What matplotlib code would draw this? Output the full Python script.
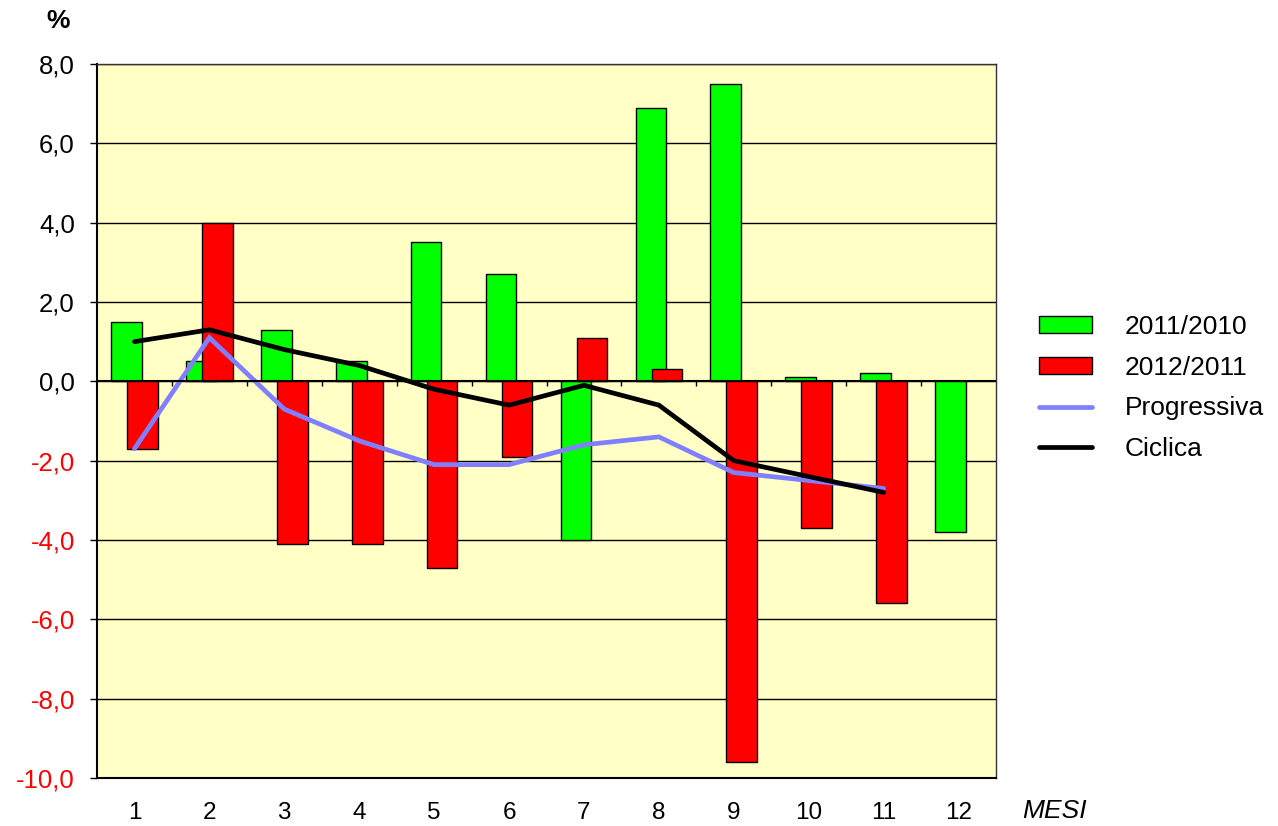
import matplotlib
matplotlib.use("Agg")
import matplotlib.pyplot as plt
import numpy as np

plt.rcParams['font.family'] = ['Liberation Sans', 'DejaVu Sans']

months = ['1', '2', '3', '4', '5', '6', '7', '8', '9', '10', '11', '12']
var_2011_2010 = [1.5, 0.5, 1.3, 0.5, 3.5, 2.7, -4.0, 6.9, 7.5, 0.1, 0.2, -3.8]
var_2012_2011 = [-1.7, 4.0, -4.1, -4.1, -4.7, -1.9, 1.1, 0.3, -9.6, -3.7, -5.6, np.nan]
progressiva = [-1.7, 1.1, -0.7, -1.5, -2.1, -2.1, -1.6, -1.4, -2.3, -2.5, -2.7, np.nan]
ciclica = [1.0, 1.3, 0.8, 0.4, -0.2, -0.6, -0.1, -0.6, -2.0, -2.4, -2.8, np.nan]
y_ticks = [8, 6, 4, 2, 0, -2, -4, -6, -8, -10]

fig = plt.figure(figsize=(12.78, 8.26), dpi=100)
ax = fig.add_axes([97/1278, 1 - 778/826, (996 - 97)/1278, (778 - 64)/826])
ax.set_facecolor('#FFFFC6')

x = np.arange(len(months))
bw = 0.41
off = 0.107

b1 = ax.bar(x - off, var_2011_2010, width=bw, color='#00FF00', edgecolor='black',
            linewidth=1.0, label='2011/2010', zorder=3)
b2 = ax.bar(x + off, var_2012_2011, width=bw, color='#FF0000', edgecolor='black',
            linewidth=1.0, label='2012/2011', zorder=4)
l1, = ax.plot(x, progressiva, color='#8080FF', linewidth=3.4, label='Progressiva',
              zorder=5, solid_capstyle='round', solid_joinstyle='miter')
l2, = ax.plot(x, ciclica, color='black', linewidth=3.4, label='Ciclica',
              zorder=6, solid_capstyle='round', solid_joinstyle='miter')

ax.set_xlim(-0.5, len(months) - 0.5)
ax.set_ylim(-10, 8)

# horizontal grid
ax.set_yticks(y_ticks)
ax.grid(axis='y', color='black', linewidth=1.0, zorder=1)
ax.set_yticklabels([f"{v:.1f}".replace('.', ',') for v in y_ticks], fontsize=18.5)
for lbl, v in zip(ax.get_yticklabels(), y_ticks):
    lbl.set_color('red' if v < 0 else 'black')
ax.tick_params(axis='y', direction='out', length=5, width=1, pad=11)

# zero axis with category boundary ticks
ax.axhline(0, color='black', linewidth=1.5, zorder=7)
bounds = np.arange(len(months) + 1) - 0.5
ax.vlines(bounds[1:-1], -0.13, 0, color='black', linewidth=1, zorder=7)

# month labels below the plot
ax.set_xticks(x)
ax.set_xticklabels(months, fontsize=17.5)
ax.tick_params(axis='x', length=0, pad=17)

for side in ['left', 'bottom']:
    ax.spines[side].set_color('black')
    ax.spines[side].set_linewidth(1.5)
for side in ['top', 'right']:
    ax.spines[side].set_color('#333333')
    ax.spines[side].set_linewidth(1.0)

fig.text(58/1278, 1 - 21/826, '%', fontsize=19, fontweight='bold',
         ha='center', va='center')
fig.text(1022/1278, 1 - 811/826, 'MESI', fontsize=19, style='italic',
         ha='left', va='center')

fig.legend(handles=[b1, b2, l1, l2],
           loc='center left', bbox_to_anchor=(1034/1278, 1 - 388/826),
           frameon=False, fontsize=19, handlelength=2.0, handleheight=0.62,
           handletextpad=1.25, labelspacing=0.64, borderpad=0.2,
           borderaxespad=0)

fig.savefig('out.png', dpi=100)
